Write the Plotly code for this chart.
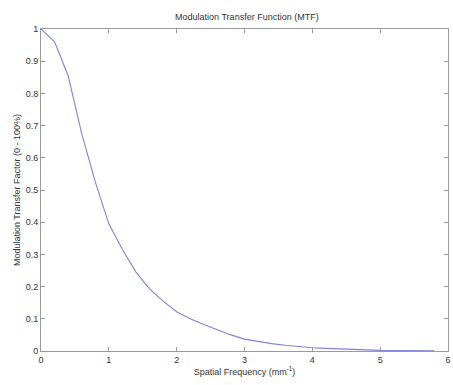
import plotly.graph_objects as go

freq = [0.0, 0.2, 0.4, 0.6, 0.8, 1.0, 1.2, 1.4, 1.6, 1.8, 2.0, 2.2, 2.4, 2.6, 2.8,
        3.0, 3.2, 3.4, 3.6, 3.8, 4.0, 4.2, 4.4, 4.6, 4.8, 5.0, 5.2, 5.4, 5.6, 5.8]
mtf = [1.0, 0.96, 0.855, 0.675, 0.525, 0.395, 0.315, 0.245, 0.193, 0.155, 0.122,
       0.10, 0.082, 0.066, 0.05, 0.037, 0.029, 0.023, 0.018, 0.013, 0.010, 0.008,
       0.006, 0.004, 0.003, 0.002, 0.0015, 0.001, 0.0008, 0.0005]
x_ticks = [0, 1, 2, 3, 4, 5, 6]
y_ticks = [0, 0.1, 0.2, 0.3, 0.4, 0.5, 0.6, 0.7, 0.8, 0.9, 1]

FONT = "Liberation Sans"
fig = go.Figure(go.Scatter(x=freq, y=mtf, mode="lines",
                           line=dict(color="rgb(128,128,222)", width=1.1)))

axis_common = dict(showgrid=False, zeroline=False, showline=True, mirror="ticks",
                   linecolor="#9a9a9a", linewidth=1, ticks="inside", ticklen=4,
                   tickcolor="#9a9a9a", automargin=False, ticklabeloverflow="allow",
                   tickfont=dict(family=FONT, size=9, color="#333"))

fig.update_layout(
    width=453, height=385,
    margin=dict(l=41, r=5, t=29, b=34),
    paper_bgcolor="white", plot_bgcolor="white",
    showlegend=False,
    title=dict(text="Modulation Transfer Function (MTF)", x=0.545, xanchor="center",
               y=0.957, yanchor="middle",
               font=dict(family=FONT, size=9, color="#333")),
    xaxis=dict(range=[0, 6], tickvals=x_ticks,
               title=dict(text="Spatial Frequency (mm<sup>-1</sup>)", standoff=3,
                          font=dict(family=FONT, size=9, color="#333")),
               **axis_common),
    yaxis=dict(range=[0, 1], tickvals=y_ticks, ticktext=[f"{v:g}" for v in y_ticks],
               title=dict(text="Modulation Transfer Factor (0 - 100%)", standoff=3,
                          font=dict(family=FONT, size=9, color="#333")),
               **axis_common),
)

# remove the browser's default 8px body margin so the figure sits at (0, 0)
fig.write_html("out.html", config={"displayModeBar": False},
               post_script="document.body.style.margin='0';document.body.style.overflow='hidden';")
